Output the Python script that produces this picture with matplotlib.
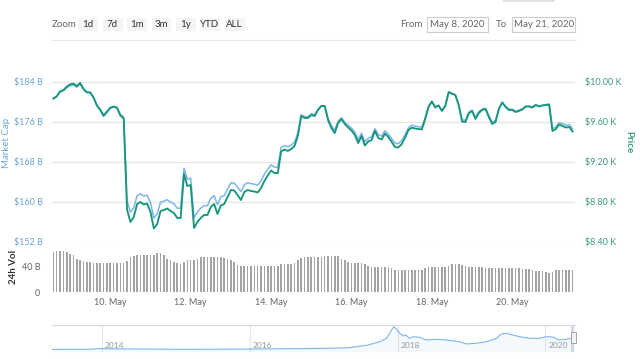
import matplotlib
matplotlib.use("Agg")
import matplotlib.pyplot as plt
import matplotlib.dates as mdates
from matplotlib.patches import Rectangle
from matplotlib.lines import Line2D
from matplotlib.ticker import FixedLocator, FuncFormatter
import pandas as pd

# =========================
# Data (2-hour steps from May 8 14:00 to May 21 12:00)
# =========================
START = "2020-05-08 14:00"
STEP = "2h"

price_usd = [
    9832, 9854, 9903, 9916, 9950, 9973, 9980, 9957, 9988, 9928,
    9895, 9894, 9842, 9762, 9717, 9657, 9697, 9737, 9750, 9739,
    9662, 9632, 8722, 8597, 8647, 8777, 8797, 8772, 8782, 8697,
    8532, 8577, 8707, 8717, 8732, 8707, 8687, 8637, 8637, 9077,
    8957, 8967, 8537, 8597, 8637, 8667, 8667, 8747, 8777, 8677,
    8762, 8777, 8847, 8917, 8912, 8867, 8817, 8897, 8917, 8907,
    8902, 8892, 8937, 9007, 9062, 9112, 9087, 9087, 9302, 9322,
    9307, 9327, 9357, 9462, 9657, 9637, 9637, 9667, 9657, 9717,
    9757, 9757, 9617, 9537, 9487, 9587, 9627, 9577, 9542, 9512,
    9467, 9387, 9457, 9362, 9402, 9417, 9507, 9437, 9422, 9482,
    9447, 9397, 9347, 9342, 9377, 9442, 9517, 9540, 9532, 9527,
    9522, 9627, 9747, 9802, 9742, 9762, 9707, 9757, 9897, 9882,
    9867, 9767, 9602, 9597, 9682, 9707, 9627, 9687, 9717, 9727,
    9647, 9577, 9597, 9727, 9792, 9747, 9717, 9717, 9697, 9707,
    9722, 9752, 9752, 9742, 9767, 9752, 9762, 9767, 9772, 9507,
    9527, 9572, 9557, 9542, 9547, 9502,
]

market_cap_b = [
    180.6, 181.0, 181.9, 182.2, 182.8, 183.2, 183.3, 182.9, 183.5, 182.4,
    181.8, 181.8, 180.8, 179.3, 178.5, 177.4, 178.1, 178.9, 179.1, 178.9,
    177.5, 176.9, 160.2, 157.9, 158.8, 161.2, 161.6, 161.1, 161.3, 159.8,
    156.7, 157.6, 159.9, 160.1, 160.4, 159.9, 159.6, 158.7, 158.7, 166.7,
    164.5, 164.7, 156.8, 157.9, 158.7, 159.2, 159.2, 160.7, 161.2, 159.4,
    161.0, 161.2, 162.5, 163.8, 163.7, 162.9, 162.0, 163.4, 163.8, 163.6,
    163.5, 163.3, 164.2, 165.5, 166.5, 167.4, 166.9, 166.9, 170.9, 171.2,
    171.0, 171.3, 171.9, 173.8, 177.4, 177.0, 177.0, 177.6, 177.4, 178.5,
    179.2, 179.2, 176.7, 175.2, 174.3, 176.1, 176.8, 175.9, 175.3, 174.7,
    173.9, 172.4, 173.7, 172.0, 172.7, 173.0, 174.6, 173.4, 173.1, 174.2,
    173.5, 172.6, 171.7, 171.6, 172.3, 173.4, 174.8, 175.3, 175.1, 175.0,
    174.9, 176.8, 179.1, 180.1, 179.0, 179.3, 178.3, 179.2, 181.8, 181.5,
    181.3, 179.4, 176.4, 176.3, 177.9, 178.3, 176.8, 178.0, 178.5, 178.7,
    177.2, 175.9, 176.3, 178.7, 179.9, 179.1, 178.5, 178.5, 178.1, 178.3,
    178.6, 179.1, 179.1, 179.0, 179.4, 179.1, 179.3, 179.4, 179.5, 174.6,
    175.0, 175.8, 175.6, 175.3, 175.4, 174.6,
]

volume_b = [
    62, 63, 63, 63, 62, 59, 57, 52, 50, 48,
    47, 46, 45.5, 45.5, 45.5, 45.5, 45.5, 45, 44.6, 44.5,
    44.5, 44.6, 48, 54, 56, 57, 57.5, 57.5, 57, 57.5,
    58, 60, 60.5, 57, 52, 49, 47, 45, 43.6, 46,
    49, 50, 50, 51, 54, 54.5, 55, 55, 55, 55,
    54.5, 53, 51, 49, 46, 42, 41, 40.5, 40.5, 40.5,
    40, 40.5, 40.5, 40, 40.5, 40.5, 41, 41, 43, 43.6,
    43.6, 44, 45, 49, 53, 54, 54, 54, 54.5, 54.5,
    55, 55.5, 56, 56.5, 56.5, 56, 52, 49, 46, 45.6,
    45.6, 45.5, 45, 43, 41, 39.5, 39.4, 39.4, 39.4, 39.4,
    39, 38, 35, 34.3, 34.3, 34.3, 34.3, 34.3, 34.3, 34.5,
    35, 37, 38.5, 38.5, 38.5, 38.5, 38.5, 39, 41, 43,
    43.1, 43, 42, 40, 38.5, 38.5, 38.5, 38.5, 38.5, 38,
    37, 37, 37, 37, 37, 37, 37, 37, 37, 37,
    36.5, 36, 35.5, 35, 33.5, 33.3, 33.3, 32, 30.5, 31,
    34, 34.3, 34.3, 34.3, 34.3, 34,
]

x_tick_days = ["2020-05-10", "2020-05-12", "2020-05-14",
               "2020-05-16", "2020-05-18", "2020-05-20"]

# navigator (full history, market cap in B)
nav_dates = [
    "2013-04-28", "2013-11-01", "2013-12-05", "2014-06-01", "2015-01-15",
    "2015-08-01", "2016-01-01", "2016-07-01", "2017-01-01", "2017-05-01",
    "2017-08-01", "2017-10-05", "2017-11-08", "2017-12-01", "2017-12-13",
    "2017-12-26", "2018-01-11", "2018-01-28", "2018-02-10", "2018-02-27",
    "2018-03-18", "2018-04-20", "2018-05-23", "2018-07-11", "2018-08-29",
    "2018-11-02", "2018-12-05", "2019-01-25", "2019-03-15", "2019-05-04",
    "2019-05-28", "2019-06-21", "2019-07-24", "2019-08-26", "2019-10-15",
    "2019-12-02", "2020-01-04", "2020-02-06", "2020-03-10", "2020-04-12",
    "2020-05-08", "2020-05-21",
]
nav_mcap_b = [
    1.5, 3, 12, 8, 3,
    4, 6.5, 11, 16, 25,
    60, 111, 164, 279, 326,
    289, 232, 193, 207, 160,
    183, 174, 136, 146, 136,
    111, 79, 89, 111, 160,
    222, 232, 207, 183, 160,
    160, 183, 179, 136, 146,
    160, 175,
]
nav_years = ["2014", "2016", "2018", "2020"]

zoom_buttons = ["1d", "7d", "1m", "3m", "1y", "YTD", "ALL"]

# =========================
# Style
# =========================
W, H = 640, 359


def fx(x):
    return x / W


def fy(y):
    return 1 - y / H


BLUE = "#7cb5ec"
BLUE_TXT = "#6aa6d6"
GREEN = "#17967a"
GREEN_TXT = "#3b9a7f"
GRID = "#e6e6e6"
GREY_TXT = "#666666"

plt.rcParams["font.family"] = ["Lato", "DejaVu Sans"]

times = pd.date_range(START, periods=len(price_usd), freq=STEP)

fig = plt.figure(figsize=(6.4, 3.59), dpi=100)

L, R = 52, 575
ax = fig.add_axes([fx(L), fy(241.7), fx(R - L), (241.7 - 70) / H])
ax2 = ax.twinx()
axv = fig.add_axes([fx(L), fy(292.3), fx(R - L), 50.3 / H], sharex=ax)
axn = fig.add_axes([fx(L), fy(352), fx(R - L), 27 / H])

for a in (ax, ax2, axv, axn):
    for s in a.spines.values():
        s.set_visible(False)

# =========================
# Main panel
# =========================
ax.plot(times, market_cap_b, color=BLUE, lw=1.1)
ax2.plot(times, price_usd, color=GREEN, lw=1.35)

ax.set_xlim(pd.Timestamp("2020-05-08 13:12"), pd.Timestamp("2020-05-21 13:26"))
ax.set_ylim(152, 186.34)
ax.set_yticks([152, 160, 168, 176, 184])
ax.yaxis.set_major_formatter(FuncFormatter(lambda v, p: f"${v:.0f} B"))
ax2.set_ylim(8400, 10117)
ax2.set_yticks([8400, 8800, 9200, 9600, 10000])
ax2.yaxis.set_major_formatter(FuncFormatter(lambda v, p: f"${v / 1000:.2f} K"))

ax.grid(axis="y", color=GRID, lw=1)
ax.set_axisbelow(True)
ax.tick_params(axis="y", length=0, pad=6.7, labelsize=6.5, labelcolor=BLUE_TXT)
ax2.tick_params(axis="y", length=0, pad=7.2, labelsize=6.5, labelcolor=GREEN_TXT)
ax.tick_params(axis="x", bottom=False, labelbottom=False)

# =========================
# Volume panel
# =========================
axv.bar(times, volume_b, width=0.04, color="#a4a4a4", linewidth=0)
axv.set_ylim(0, 77.5)
axv.set_yticks([0, 40])
axv.set_yticklabels(["0", "40 B"])
axv.xaxis.set_major_locator(FixedLocator(mdates.date2num(pd.to_datetime(x_tick_days))))
axv.xaxis.set_major_formatter(mdates.DateFormatter("%d. %b"))
axv.tick_params(axis="y", length=0, pad=8.5, labelsize=6.5, labelcolor=GREY_TXT)
axv.tick_params(axis="x", length=0, pad=4, labelsize=6.5, labelcolor=GREY_TXT)

# =========================
# Navigator
# =========================
nav_dt = pd.to_datetime(nav_dates)
axn.fill_between(nav_dt, nav_mcap_b, -36, color=BLUE, alpha=0.08, lw=0)
axn.plot(nav_dt, nav_mcap_b, color=BLUE, lw=0.8)
axn.set_xlim(pd.Timestamp("2013-04-28"), pd.Timestamp("2020-05-26"))
axn.set_ylim(-35.75, 350.35)
axn.set_xticks([])
axn.set_yticks([])
axn.spines["top"].set_visible(True)
axn.spines["top"].set_color("#d9d9d9")
axn.spines["top"].set_linewidth(0.8)
for yr in nav_years:
    d = pd.Timestamp(f"{yr}-01-01")
    axn.axvline(d, color=GRID, lw=0.8, zorder=0)
    axn.annotate(yr, (mdates.date2num(d), 0.12), xycoords=axn.get_xaxis_transform(),
                 xytext=(2, 0), textcoords="offset points",
                 ha="left", va="bottom", fontsize=6, color="#999999")
axn.axvspan(times[0], times[-1], color="#b9c3d6", alpha=0.6, lw=0)

# navigator handle
fig.add_artist(Rectangle((fx(571), fy(343)), fx(5), 11 / H, transform=fig.transFigure,
                         fc="#f2f2f2", ec="#999999", lw=0.6))

# =========================
# Header controls
# =========================
fig.add_artist(Rectangle((fx(503), fy(1.5)), fx(52), 1.5 / H, transform=fig.transFigure,
                         fc="#e3e3e3", ec="none"))
fig.text(fx(52), fy(24.5), "Zoom", ha="left", va="center", fontsize=7, color=GREY_TXT)
btn_centers = [88, 112.5, 137, 161.5, 186, 210, 234.5]
for lab, cx in zip(zoom_buttons, btn_centers):
    fig.add_artist(Rectangle((fx(cx - 10), fy(30.7)), fx(20), 12.4 / H,
                             transform=fig.transFigure, fc="#f5f5f5", ec="none"))
    fig.text(fx(cx), fy(24.5), lab, ha="center", va="center", fontsize=7, color="#333333")

fig.text(fx(411), fy(24.5), "From", ha="center", va="center", fontsize=7, color=GREY_TXT)
fig.add_artist(Rectangle((fx(426.7), fy(32)), fx(61.6), 14.7 / H, transform=fig.transFigure,
                         fc="white", ec="#cccccc", lw=0.8))
fig.text(fx(457.5), fy(24.5), "May 8, 2020", ha="center", va="center", fontsize=7, color=GREY_TXT)
fig.text(fx(501), fy(24.5), "To", ha="center", va="center", fontsize=7, color=GREY_TXT)
fig.add_artist(Rectangle((fx(512.3), fy(32)), fx(62.7), 14.7 / H, transform=fig.transFigure,
                         fc="white", ec="#cccccc", lw=0.8))
fig.text(fx(543.7), fy(24.5), "May 21, 2020", ha="center", va="center", fontsize=7, color=GREY_TXT)

fig.add_artist(Line2D([fx(52), fx(575)], [fy(40), fy(40)], transform=fig.transFigure,
                      color=GRID, lw=0.8))

# axis titles
fig.text(fx(6.7), fy(142.5), "Market Cap", rotation=90, ha="center", va="center",
         fontsize=7, color=BLUE_TXT)
fig.text(fx(628.3), fy(141.7), "Price", rotation=270, ha="center", va="center",
         fontsize=7, color=GREEN_TXT, fontweight="bold")
fig.text(fx(13.3), fy(266.7), "24h Vol", rotation=90, ha="center", va="center",
         fontsize=7, color="#333333", fontweight="bold")

fig.savefig("out.png", dpi=100)
